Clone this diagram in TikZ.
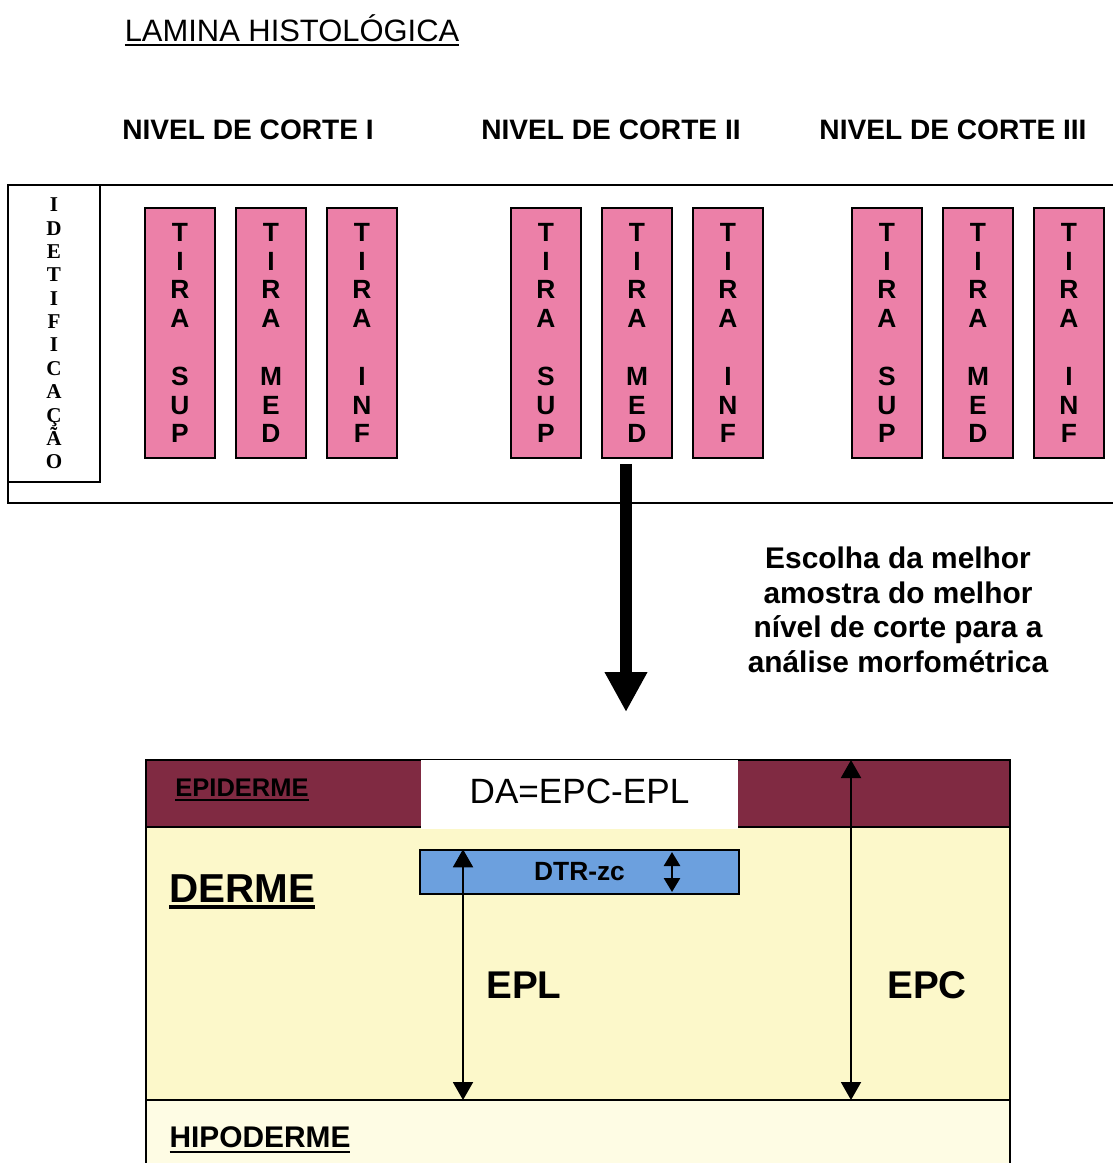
\documentclass[tikz,border=0pt]{standalone}
\usepackage{fontspec}
\setmainfont{Liberation Sans}
\newfontfamily\serifid{Liberation Serif}
\usetikzlibrary{arrows.meta,positioning,calc}
\definecolor{tirapink}{RGB}{236,128,168}
\definecolor{epid}{RGB}{128,42,66}
\definecolor{derm}{RGB}{252,248,202}
\definecolor{hipo}{RGB}{254,252,228}
\definecolor{dtrblue}{RGB}{108,160,222}
\newcommand{\undl}[2]{\leavevmode\vtop{\hbox{#2}\kern1.6pt\hrule height #1}}
\tikzset{
  tira/.style={rectangle,draw=black,line width=.9pt,fill=tirapink,minimum width=1.4cm,minimum height=5cm,inner sep=0pt,align=center,font=\bfseries\fontsize{15}{16.4}\selectfont},
  ident/.style={rectangle,draw=black,line width=.8pt,minimum width=1.84cm,minimum height=5.94cm,inner sep=0pt,align=center,font=\serifid\bfseries\fontsize{12}{13.3}\selectfont},
  nivel/.style={font=\bfseries\fontsize{16}{19}\selectfont},
  seta/.style={line width=6.8pt,-{Triangle[width=8mm,length=8mm]}},
  cota/.style={line width=1.1pt,{Triangle[width=4mm,length=3.6mm]}-{Triangle[width=4mm,length=3.6mm]}},
  cotamini/.style={line width=1.5pt,{Triangle[width=3.2mm,length=2.8mm]}-{Triangle[width=3.2mm,length=2.8mm]}},
  lab/.style={font=\bfseries\fontsize{22}{26}\selectfont},
  caixa/.style={rectangle,inner sep=0pt}
}
\begin{document}
\begin{tikzpicture}[x=0.02cm,y=-0.02cm]
  \useasboundingbox (0,0) rectangle (1113,1163);

  % lamina
  \node[font=\fontsize{17.6}{20}\selectfont] (titulo) at (292,30) {\undl{0.8pt}{LAMINA HISTOLÓGICA}};
  \node[nivel] (nivel1) at (248,130) {NIVEL DE CORTE I};
  \node[nivel] (nivel2) at (611,130) {NIVEL DE CORTE II};
  \node[nivel] (nivel3) at (953,130) {NIVEL DE CORTE III};

  \draw[line width=.8pt] (1113,185) -- (8,185) -- (8,503) -- (1113,503);
  \node[ident] (idbox) at (54,333.5) {I\\D\\E\\T\\I\\F\\I\\C\\A\\Ç\\Ã\\O};

  \foreach \gx/\g in {180/1,546/2,887/3}{
    \node[tira] (sup\g) at (\gx,333) {T\\I\\R\\A\\[16.4pt]S\\U\\P};
    \node[tira] (med\g) at (\gx+91,333) {T\\I\\R\\A\\[16.4pt]M\\E\\D};
    \node[tira] (inf\g) at (\gx+182,333) {T\\I\\R\\A\\[16.4pt]I\\N\\F};
  }

  % escolha
  \coordinate (setafim) at (626,712);
  \draw[seta] ($(med2.south)+(-11,5)$) -- (setafim);
  \node[align=center,font=\bfseries\fontsize{17}{19.7}\selectfont] (escolha) at (898,610)
    {Escolha da melhor\\amostra do melhor\\nível de corte para a\\análise morfométrica};

  % camadas
  \fill[derm] (146,827) rectangle (1010,1100);
  \fill[epid] (146,760) rectangle (1010,827);
  \fill[hipo] (146,1100) rectangle (1010,1163);
  \draw[line width=.8pt] (146,1163) -- (146,760) -- (1010,760) -- (1010,1163);
  \draw[line width=.8pt] (146,827) -- (1010,827) (146,1100) -- (1010,1100);

  \node[caixa,fill=white,minimum width=6.34cm,minimum height=1.38cm,font=\fontsize{20}{24}\selectfont] (da) at (579.5,794) {\raisebox{3.5pt}{DA=EPC-EPL}};
  \node[caixa,draw=black,line width=.8pt,fill=dtrblue,minimum width=6.38cm,minimum height=0.88cm,font=\bfseries\fontsize{15}{18}\selectfont] (dtr) at (579.5,872) {\raisebox{-2pt}{DTR-zc}};

  \node[font=\bfseries\fontsize{14.5}{17}\selectfont] (epiderme) at (242,790) {\undl{1.4pt}{EPIDERME}};
  \node[font=\bfseries\fontsize{23}{27}\selectfont] (derme) at (242,892) {\undl{2.2pt}{DERME}};
  \node[font=\bfseries\fontsize{17}{20}\selectfont] (hipoderme) at (260,1140) {\undl{1.4pt}{HIPODERME}};

  % medidas
  \coordinate (eplbase) at (463,1100);
  \draw[cota] (eplbase |- dtr.north) -- (eplbase);
  \coordinate (epctopo) at (851,760);
  \coordinate (epcbase) at (851,1100);
  \draw[cota] (epctopo) -- (epcbase);
  \coordinate (dtrtopo) at (672,852);
  \coordinate (dtrbase) at (672,892);
  \draw[cotamini] (dtrtopo) -- (dtrbase);

  \node[lab] (epl) at (524,985) {EPL};
  \node[lab] (epc) at (927,985) {EPC};
\end{tikzpicture}
\end{document}
